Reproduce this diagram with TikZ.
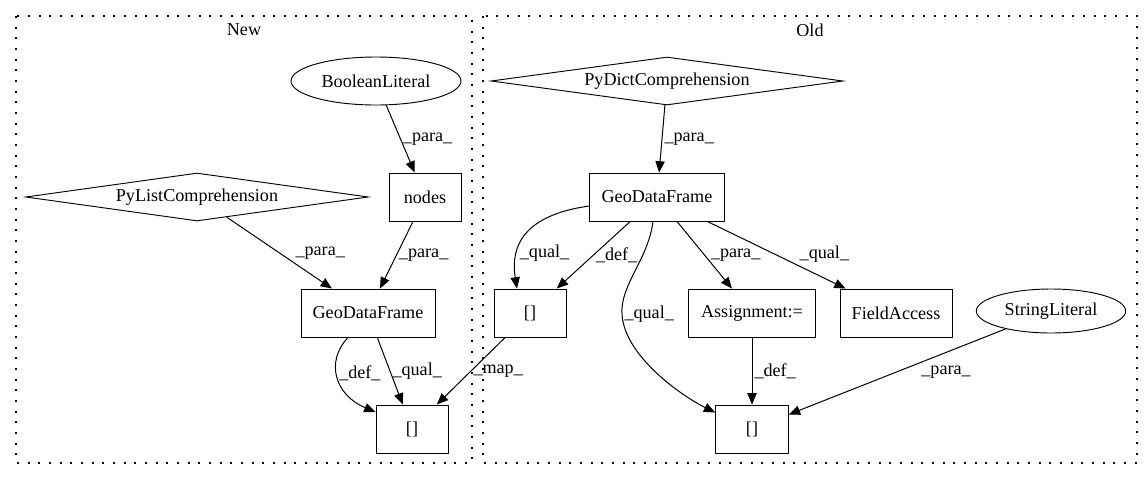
\documentclass[tikz,border=0pt]{standalone}
\usepackage{fontspec}
\setmainfont{Liberation Serif}
\usetikzlibrary{shapes.geometric, arrows.meta, calc}
\newcommand{\gvfont}{\fontsize{13.6}{16}\selectfont}
\tikzset{
  % Node styles
  opbox/.style={rectangle, draw=black, line width=0.7pt, minimum height=36pt, inner sep=0pt, font=\gvfont},
  litellipse/.style={ellipse, draw=black, line width=0.7pt, inner sep=0pt, font=\gvfont},
  compdiamond/.style={diamond, draw=black, line width=0.7pt, shape aspect=7, minimum height=36pt, inner sep=0pt, font=\gvfont},
  % Cluster styles
  clusterbox/.style={draw=black, line width=0.8pt, dash pattern=on 1.5pt off 6.5pt},
  clustertitle/.style={font=\gvfont, inner sep=0pt},
  % Arrow styles
  flowarrow/.style={-{Triangle[length=8.5pt,width=7pt]}, line width=0.75pt},
  edgelabel/.style={font=\gvfont, inner sep=1.5pt}
}

\begin{document}
\begin{tikzpicture}[x=0.75pt, y=-0.75pt]
  \path[fill=white, use as bounding box] (0,0) rectangle (1147,480);

  % Clusters
  \draw[clusterbox] (16,16) rectangle (472,463);
  \draw[clusterbox] (483,16) rectangle (1137,463);
  \node[clustertitle] (newtitle) at (244,30) {New};
  \node[clustertitle] (oldtitle) at (810,30) {Old};

  % New
  \node[litellipse, minimum width=127.5pt, minimum height=36pt] (boollit) at (376,81) {BooleanLiteral};
  \node[compdiamond, minimum width=257pt] (pylist) at (197,197) {PyListComprehension};
  \node[opbox, minimum width=54pt] (nodesbox) at (425,197) {nodes};
  \node[opbox, minimum width=100.5pt] (gdfnew) at (368,313) {GeoDataFrame};
  \node[opbox, minimum width=54pt] (subnew) at (412,429) {[]};

  % Old
  \node[compdiamond, minimum width=264pt] (pydict) at (667,81) {PyDictComprehension};
  \node[opbox, minimum width=101pt] (gdfold) at (657,197) {GeoDataFrame};
  \node[opbox, minimum width=54pt] (subold) at (530,313) {[]};
  \node[opbox, minimum width=95pt] (assign) at (752,313) {Assignment:=};
  \node[opbox, minimum width=84pt] (fieldacc) at (896,313) {FieldAccess};
  \node[litellipse, minimum width=112pt, minimum height=33pt] (strlit) at (1051,311) {StringLiteral};
  \node[opbox, minimum width=54.5pt] (subdef) at (752,429) {[]};

  % Edges in New
  \draw[flowarrow] (boollit) -- node[edgelabel, pos=0.5, anchor=west] {\_para\_} (nodesbox);
  \draw[flowarrow] (pylist) -- node[edgelabel, pos=0.63, anchor=south west] {\_para\_} (gdfnew);
  \draw[flowarrow] (nodesbox) -- node[edgelabel, pos=0.5, anchor=west] {\_para\_} (gdfnew);
  \draw[flowarrow] ($(gdfnew.south)+(-20,0)$) .. controls (325,362) and (335,395) .. ($(subnew.west)+(0,-17)$)
    node[edgelabel, pos=0.45, anchor=west] {\_def\_};
  \draw[flowarrow] (gdfnew) -- node[edgelabel, pos=0.5, anchor=west] {\_qual\_} (subnew);
  \draw[flowarrow] (subold) -- node[edgelabel, pos=0.5, anchor=west] {\_map\_} (subnew);

  % Edges in Old
  \draw[flowarrow] (pydict) -- node[edgelabel, pos=0.5, anchor=west] {\_para\_} (gdfold);
  \draw[flowarrow] ($(gdfold.west)+(0,9)$) .. controls (525,215) and (510,245) .. ($(subold.north)+(-13,0)$)
    node[edgelabel, pos=0.7, anchor=west] {\_qual\_};
  \draw[flowarrow] (gdfold) -- node[edgelabel, pos=0.5, anchor=west] {\_def\_} (subold);
  \draw[flowarrow] ($(gdfold.south)+(-4,0)$) .. controls (648,260) and (620,285) .. (622,314)
    node[edgelabel, anchor=west] {\_qual\_}
    .. controls (624,355) and (680,395) .. ($(subdef.north west)+(0,8)$);
  \draw[flowarrow] (gdfold) -- node[edgelabel, pos=0.5, anchor=west, xshift=3pt] {\_para\_} (assign);
  \draw[flowarrow] (gdfold) -- node[edgelabel, pos=0.65, anchor=south west] {\_qual\_} (fieldacc);
  \draw[flowarrow] (assign) -- node[edgelabel, pos=0.5, anchor=west] {\_def\_} (subdef);
  \draw[flowarrow] (strlit) -- node[edgelabel, pos=0.4, anchor=north west] {\_para\_} (subdef);
\end{tikzpicture}
\end{document}
